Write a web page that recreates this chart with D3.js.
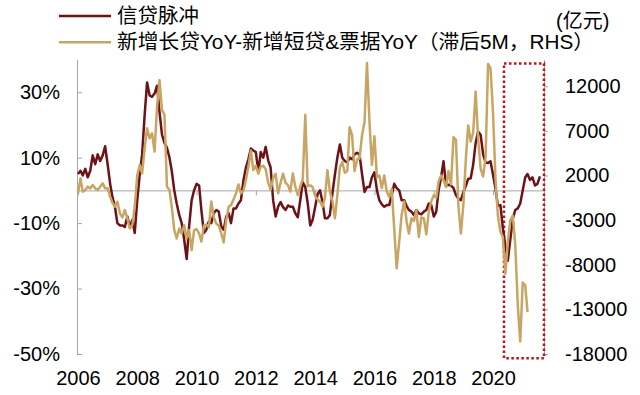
<!DOCTYPE html>
<html lang="zh-CN">
<head>
<meta charset="UTF-8">
<title>信贷脉冲</title>
<script src="https://d3js.org/d3.v7.min.js"></script>
<style>
  body { margin: 0; background: #fff; }
  svg text { font-family: "Liberation Sans", Arial, "Noto Sans CJK SC", sans-serif; fill: #000; }
  .axis path, .axis line { stroke: #a6a6a6; }
  .axis text { font-size: 20px; }
</style>
</head>
<body>
<svg width="640" height="395"></svg>
<script>
// monthly series, first point = Jan 2006
const startMonth = new Date(2006, 0, 1);

// 信贷脉冲 (%), left axis
const creditImpulse = [
  5, 6, 4.6, 6.6, 4, 6, 10.7, 8, 11, 9, 10.7, 13.5,
  8, 2, -2, -5, -10, -10.7, -10.7, -11.2, -8, -11, -9, -13,
  -3, 5, 11, 23, 33, 29, 28.6, 29.6, 32, 24, 17, 14.5,
  13, 10, 6, 0, -4, -7.5, -10, -15, -21, -11, -3, 0,
  2, 1.5, -6, -13, -12, -9.5, -10, -7, -6, -6.5, -11, -12,
  -8, -7, -10, -5.5, -5.5, -4, -3, 3, 7, 9.5, 12.8, 12.2,
  11.7, 5.6, 11.7, 10, 13.3, 9.2, 7, -3, -8, -5, -3.6, -5.1,
  -6, -4.6, -5, -5, -7, -8.2, -3, 2.5, 1, -4, -10.7, -9,
  -5, -1, 0, -3.5, -8.5, -8.5, -7.5, -1, 4.8, 10, 14, 10,
  9, 8.5, 10, 9.5, 11, 11.5, 11, 5, -0.5, 1, 1, 4,
  5.5, 0, -3, -4.3, -5, -4.5, -4.5, -1.5, 2, 0.7, 0, -3,
  -3, -4.8, -6, -6.5, -7.5, -6, -7, -7.3, -6.5, -6, -4, -4.5,
  -8, -6.5, 0, 4, 8.9, 1.5, 1.7, 1.5, 0.7, -1.4, -2.6, -3,
  -0.5, 1.5, 3.5, 3.7, 7.8, 14.5, 18, 17, 11, 8.5, 8.4, 8.9,
  4.8, 0.5, -4.7, -4.5, -11.5, -17, -21.5, -15, -8.6, -6, -5.5, -4,
  0, 4, 5, 3.2, 4, 1.5, 2, 4.3
];

// 新增长贷YoY-新增短贷&票据YoY (亿元, 滞后5M), right axis
const loanSpread = [
  0, 1680, 190, 370, 750, 560, 930, 560, 370, 750, 1120, 560,
  560, -370, -1050, -1500, -935, -2240, -2700, -1870, -2800, -3930, -3550, -1500,
  2060, 3180, 2240, 5050, 7300, 6170, 6730, 4680, 9720, 12700, 9350, 8790,
  750, 370, -1500, -4110, -5050, -3930, -4490, -3550, -5050, -4110, -6360, -4110,
  -4000, -4500, -5400, -3600, -3500, -3800, -900, -2700, -3400, -3600, -4500, -5500,
  -3000, -1500, -1300, -700, 0, 1000, 0, 300, 1500, 3000, 4800, 2600,
  3100, 2200, 3000, 3100, 2700, 1200, 400, 1700, 2200, 0, 1200, 2200,
  1200, 900, 190, 2240, 750, -190, 750, 1600, 8800, 800, 900, 700,
  -300, -700, -900, -1500, -500, 2600, 200, -800, -2800, -200, 2900, 3500,
  2300, 2500, 7400, 6500, 2500, 3800, 3900, 6500, 8000, 14600, 8000, 3200,
  6400, 1800, 2000, 600, 2000, 200, -400, 500, -4000, -8400, -5400, -2400,
  -900, -3200, -4500, -2800, -3100, -1900, -4900, -2700, -2800, -4600, -2000, -900,
  -200, -500, 1300, 2000, 1500, 700, 2500, 1000, 6300, 6000, -1500, -4500,
  -1200, 4000, 7600, 5800, 6800, 11400, 6200, 2800, 1900, 4000, 14500, 14000,
  9000, 1500, -2500, -4300, -4900, -9000, -5500, -3000, -2500, -5800, -12500, -16600,
  -10000, -10300, -13300
];

const leftTicks = [-50, -30, -10, 10, 30];
const rightTicks = [-18000, -13000, -8000, -3000, 2000, 7000, 12000];
const yearTicks = [2006, 2008, 2010, 2012, 2014, 2016, 2018, 2020];
const legendLabels = ["信贷脉冲", "新增长贷YoY-新增短贷&票据YoY（滞后5M，RHS）"];
const legendWidths = [82, 477];
const unitLabel = "(亿元)";
// highlighted window (dates, left-axis %)
const boxStart = new Date(2020, 4, 15), boxEnd = new Date(2021, 8, 20);
const boxTop = 38.8, boxBottom = -51.3;

const colors = ["#6e1217", "#c9a564"];

const svg = d3.select("svg");

const x = d3.scaleTime()
  .domain([startMonth, new Date(2021, 8, 20)])
  .range([78, 544]);
const yL = d3.scaleLinear().domain([-50, 40]).range([354, 59.5]);
const yR = d3.scaleLinear().domain([-18000, 15000]).range([354, 59.5]);

const monthOf = i => d3.timeMonth.offset(startMonth, i);
const ciData = creditImpulse.map((v, i) => ({ date: monthOf(i), v }));
const lsData = loanSpread.map((v, i) => ({ date: monthOf(i), v }));

// left axis
svg.append("g")
  .attr("class", "axis")
  .attr("transform", "translate(77,0)")
  .call(d3.axisLeft(yL).tickValues(leftTicks).tickFormat(d => d + "%")
    .tickSizeInner(-5).tickSizeOuter(0).tickPadding(17));

// right axis
svg.append("g")
  .attr("class", "axis")
  .attr("transform", "translate(544,0)")
  .call(d3.axisRight(yR).tickValues(rightTicks).tickFormat(d => String(d))
    .tickSizeInner(4).tickSizeOuter(0).tickPadding(17));

// zero line with year ticks
svg.append("g")
  .attr("class", "axis")
  .attr("transform", `translate(0,${yL(0)})`)
  .call(d3.axisBottom(x).tickValues(yearTicks.map(y => new Date(y, 0, 1)))
    .tickFormat("").tickSizeInner(5).tickSizeOuter(0));

// year labels at bottom
svg.append("g")
  .attr("class", "axis")
  .attr("transform", "translate(0,354)")
  .call(d3.axisBottom(x).tickValues(yearTicks.map(y => new Date(y, 0, 1)))
    .tickFormat(d3.timeFormat("%Y")).tickSize(0).tickPadding(17))
  .call(g => g.select(".domain").remove());

// highlight box
svg.append("rect")
  .attr("x", x(boxStart))
  .attr("y", yL(boxTop))
  .attr("width", x(boxEnd) - x(boxStart))
  .attr("height", yL(boxBottom) - yL(boxTop))
  .attr("fill", "none")
  .attr("stroke", "#c0101a")
  .attr("stroke-width", 2.5)
  .attr("stroke-dasharray", "2.5,2.5");

// lines
const lineL = d3.line().x(d => x(d.date)).y(d => yL(d.v));
const lineR = d3.line().x(d => x(d.date)).y(d => yR(d.v));

svg.append("path")
  .datum(ciData)
  .attr("d", lineL)
  .attr("fill", "none")
  .attr("stroke", colors[0])
  .attr("stroke-width", 2.5)
  .attr("stroke-linejoin", "round");

svg.append("path")
  .datum(lsData)
  .attr("d", lineR)
  .attr("fill", "none")
  .attr("stroke", colors[1])
  .attr("stroke-width", 2.5)
  .attr("stroke-linejoin", "round");

// legend
const legend = svg.append("g");
legendLabels.forEach((label, i) => {
  const ly = 16 + i * 26.3;
  legend.append("line")
    .attr("x1", 59).attr("x2", 111)
    .attr("y1", ly).attr("y2", ly)
    .attr("stroke", colors[i])
    .attr("stroke-width", 2.5);
  legend.append("text")
    .attr("x", 117)
    .attr("y", ly + 7)
    .attr("font-size", "20px")
    .attr("textLength", legendWidths[i])
    .attr("lengthAdjust", "spacingAndGlyphs")
    .text(label);
});

svg.append("text")
  .attr("x", 556)
  .attr("y", 28)
  .attr("font-size", "20px")
  .text(unitLabel);
</script>
</body>
</html>
